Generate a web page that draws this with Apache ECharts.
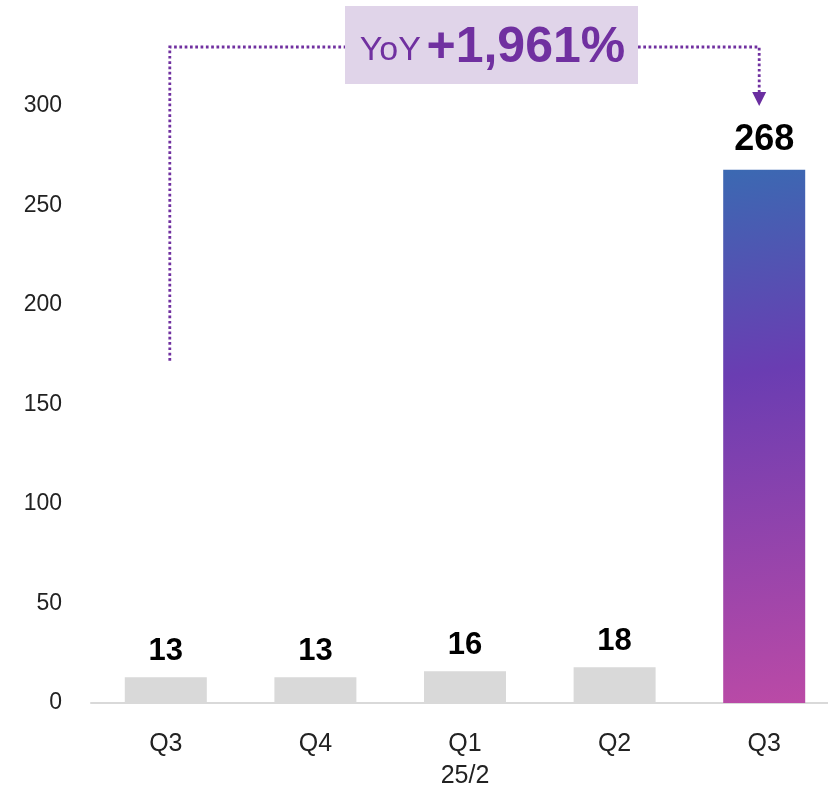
<!DOCTYPE html>
<html>
<head>
<meta charset="utf-8">
<script src="https://cdn.jsdelivr.net/npm/echarts@6/dist/echarts.min.js"></script>
<style>
  html, body { margin: 0; padding: 0; background: #fff; }
  #chart { width: 828px; height: 789px; }
</style>
</head>
<body>
<div id="chart"></div>
<script>
const categories = ["Q3", "Q4", "Q1\n25/2", "Q2", "Q3"];
const values = [13, 13, 16, 18, 268];
const yTicks = [0, 50, 100, 150, 200, 250, 300];
const yoyLabel = "YoY";
const yoyValue = "+1,961%";

const FONT = "'Liberation Sans', Arial, sans-serif";
const PURPLE = "#7030a0";

const chart = echarts.init(document.getElementById("chart"));

const barGradient = new echarts.graphic.LinearGradient(0, 0, 1, 1, [
  { offset: 0, color: "#3b69b2" },
  { offset: 0.38, color: "#6a3db2" },
  { offset: 1, color: "#bb4aa6" },
]);

const seriesData = values.map((v, i) => {
  const last = i === values.length - 1;
  return {
    value: v,
    itemStyle: { color: last ? barGradient : "#d9d9d9" },
    label: last ? { fontSize: 36, distance: 12 } : {},
  };
});

const option = {
  animation: false,
  grid: {
    left: 91,
    width: 748,
    top: 106,
    bottom: 86,
    containLabel: false,
    outerBoundsMode: "none",
  },
  xAxis: {
    type: "category",
    data: categories,
    axisTick: { show: false },
    axisLine: { lineStyle: { color: "#d9d9d9", width: 2 } },
    axisLabel: {
      fontFamily: FONT,
      fontSize: 25,
      color: "#222",
      lineHeight: 32,
      margin: 25,
    },
  },
  yAxis: {
    type: "value",
    min: yTicks[0],
    max: yTicks[yTicks.length - 1],
    interval: 50,
    splitLine: { show: false },
    axisLine: { show: false },
    axisTick: { show: false },
    axisLabel: {
      fontFamily: FONT,
      fontSize: 23,
      color: "#222",
      margin: 29,
      padding: [8, 0, 0, 0],
    },
  },
  series: [
    {
      type: "bar",
      data: seriesData,
      barWidth: 82,
      label: {
        show: true,
        position: "top",
        distance: 10,
        fontFamily: FONT,
        fontWeight: "bold",
        fontSize: 31,
        color: "#000",
      },
    },
  ],
};

chart.setOption(option);

// annotation: dotted bracket from first to last bar with YoY box
const pFirst = chart.convertToPixel({ seriesIndex: 0 }, [0, 172]);
const pLast = chart.convertToPixel({ seriesIndex: 0 }, [values.length - 1, 300]);
const xL = pFirst[0] + 4;
const xR = pLast[0] - 5;
const yTop = 47;
const boxL = 345, boxR = 638, boxT = 6, boxB = 84;
const dotted = { stroke: PURPLE, lineWidth: 2.8, lineDash: [2.7, 2.6], fill: null };

chart.setOption({
  graphic: [
    {
      type: "polyline",
      shape: { points: [[xL, pFirst[1]], [xL, yTop], [boxL, yTop]] },
      style: dotted,
      silent: true,
    },
    {
      type: "polyline",
      shape: { points: [[boxR, yTop], [xR, yTop], [xR, 92]] },
      style: dotted,
      silent: true,
    },
    {
      type: "polygon",
      shape: { points: [[xR - 7, 92], [xR + 7, 92], [xR, 106]] },
      style: { fill: "#6a2ea0" },
      silent: true,
    },
    {
      type: "rect",
      shape: { x: boxL, y: boxT, width: boxR - boxL, height: boxB - boxT },
      style: { fill: "#e0d4e9" },
      silent: true,
    },
    {
      type: "text",
      x: (boxL + boxR) / 2 + 1,
      y: (boxT + boxB) / 2 + 3,
      style: {
        text: "{a|" + yoyLabel + "}{s| }{b|" + yoyValue + "}",
        align: "center",
        verticalAlign: "middle",
        fill: PURPLE,
        rich: {
          a: { fontFamily: FONT, fontSize: 34, fill: PURPLE, padding: [6, 0, 0, 0] },
          s: { fontFamily: FONT, fontSize: 20 },
          b: { fontFamily: FONT, fontSize: 50, fill: PURPLE, fontWeight: "bold" },
        },
      },
      silent: true,
    },
  ],
});

window.addEventListener("resize", () => chart.resize());
</script>
</body>
</html>
